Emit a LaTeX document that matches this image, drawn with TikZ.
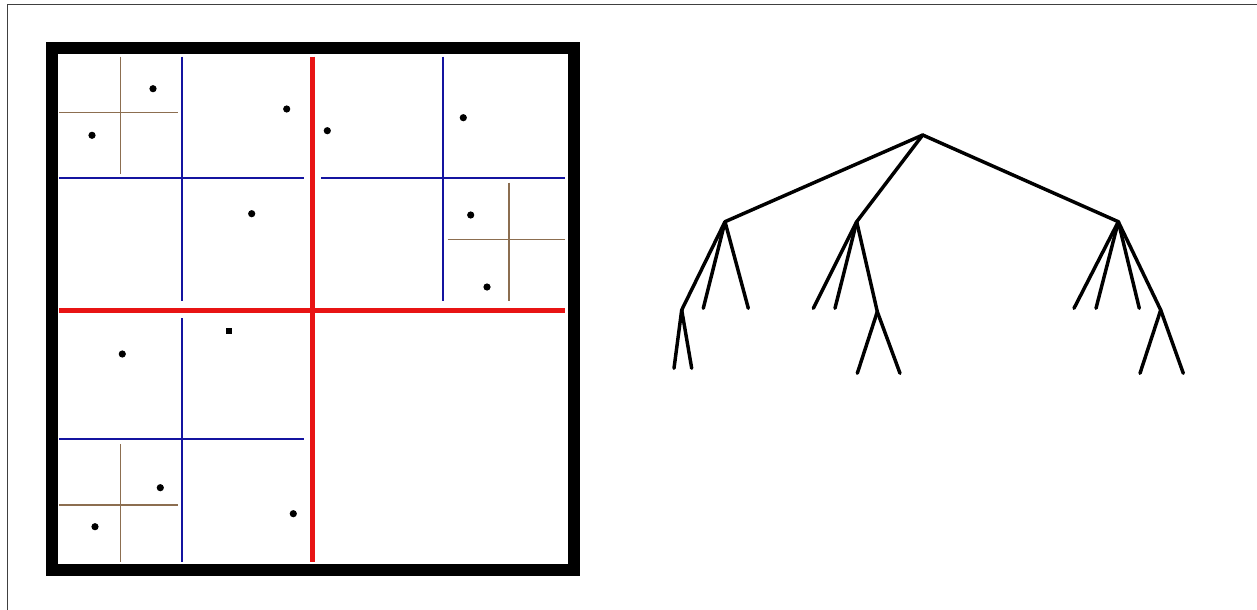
\documentclass[tikz,border=0pt]{standalone}
\usetikzlibrary{positioning}
\definecolor{CutRed}{HTML}{E81414}
\definecolor{CutBlue}{HTML}{1414A0}
\definecolor{CutBrown}{HTML}{8C6E50}
\definecolor{FrameGray}{HTML}{404040}

\begin{document}
\begin{tikzpicture}[x=0.75pt,y=-0.75pt,
        frame/.style={line width=9.4pt},
        redcut/.style={CutRed,line width=3.75pt},
        bluecut/.style={CutBlue,line width=1.5pt},
        browncut/.style={CutBrown,line width=1pt},
        pt/.style={circle,fill=black,inner sep=0pt,minimum size=5.4pt},
        sqpt/.style={rectangle,fill=black,inner sep=0pt,minimum size=4.8pt},
        edge/.style={line width=2.6pt,line cap=round}]
        \useasboundingbox (0,0) rectangle (1257,610);
        % outer lines
        \draw[FrameGray,line width=1.2pt] (7.3,610) -- (7.3,4.7) -- (1257,4.7);
        % the square
        \draw[frame] (52,48) rectangle (574,570);
        % level 1
        \draw[redcut] (312.3,56.7) -- (312.3,561.7);
        \draw[redcut] (59.3,310) -- (565,310);
        % level 2
        \draw[bluecut] (182.3,56.7) -- (182.3,301);
        \draw[bluecut] (59.3,178.3) -- (304,178.3);
        \draw[bluecut] (443.3,56.7) -- (443.3,301);
        \draw[bluecut] (321,178.3) -- (565,178.3);
        \draw[bluecut] (182.3,318.3) -- (182.3,561.7);
        \draw[bluecut] (59.3,439.3) -- (304,439.3);
        % level 3
        \draw[browncut] (120.7,56.7) -- (120.7,174);
        \draw[browncut] (59.3,112.7) -- (178.3,112.7);
        \draw[browncut] (509,182.7) -- (509,301);
        \draw[browncut] (447.7,239.3) -- (565,239.3);
        \draw[browncut] (120.7,444) -- (120.7,561.7);
        \draw[browncut] (59.3,505) -- (178.3,505);
        % points
        \node[pt] (p1) at (153,88.7) {};
        \node[pt] (p2) at (92,135.3) {};
        \node[pt] (p3) at (286.7,109) {};
        \node[pt] (p4) at (251.7,213.7) {};
        \node[pt] (p5) at (327.3,130.7) {};
        \node[pt] (p6) at (463.3,117.7) {};
        \node[pt] (p7) at (470.7,215) {};
        \node[pt] (p8) at (487,287) {};
        \node[sqpt] (p9) at (228.7,331) {};
        \node[pt] (p10) at (122.3,354) {};
        \node[pt] (p11) at (160.3,487.7) {};
        \node[pt] (p12) at (95,526.7) {};
        \node[pt] (p13) at (293.3,513.7) {};
        % tree
        \coordinate (root) at (922.7,135);
        \coordinate (nA) at (725,221.7);
        \coordinate (nB) at (856.7,221.7);
        \coordinate (nC) at (1118.3,221.7);
        \coordinate (nA1) at (681.7,310);
        \coordinate (nA2) at (703.3,308.3);
        \coordinate (nA3) at (748.3,308.3);
        \coordinate (nA11) at (674,368.3);
        \coordinate (nA12) at (691.7,368.3);
        \coordinate (nB1) at (813.3,308.3);
        \coordinate (nB2) at (835,308.3);
        \coordinate (nB3) at (877.3,311.7);
        \coordinate (nB31) at (857.3,373.3);
        \coordinate (nB32) at (900,373.3);
        \coordinate (nC1) at (1074,308.3);
        \coordinate (nC2) at (1096,308.3);
        \coordinate (nC3) at (1139.3,308.3);
        \coordinate (nC4) at (1160.7,310);
        \coordinate (nC41) at (1140,373.3);
        \coordinate (nC42) at (1183.3,373.3);
        \foreach \a/\b in {root/nA,root/nB,root/nC,nA/nA1,nA/nA2,nA/nA3,nA1/nA11,nA1/nA12,
            nB/nB1,nB/nB2,nB/nB3,nB3/nB31,nB3/nB32,nC/nC1,nC/nC2,nC/nC3,nC/nC4,nC4/nC41,nC4/nC42}
          \draw[edge] (\a) -- (\b);
      \end{tikzpicture}
\end{document}
